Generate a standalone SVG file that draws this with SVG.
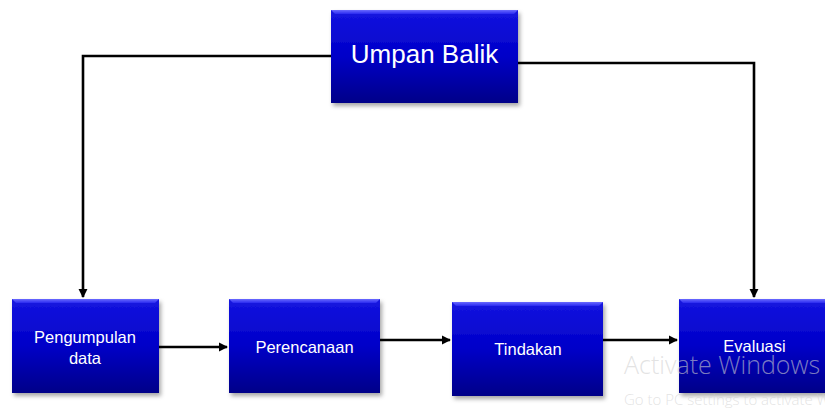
<svg xmlns="http://www.w3.org/2000/svg" width="825" height="410" viewBox="0 0 825 410">
<defs>
<linearGradient id="g" x1="0" y1="0" x2="0" y2="1">
<stop offset="0" stop-color="#1515e0"/>
<stop offset="0.5" stop-color="#0000c8"/>
<stop offset="1" stop-color="#000088"/>
</linearGradient>
<linearGradient id="bev" x1="0" y1="0" x2="0" y2="1">
<stop offset="0" stop-color="#6a6aff"/>
<stop offset="1" stop-color="#2a2af0"/>
</linearGradient>
<filter id="sh" x="-10%" y="-10%" width="130%" height="130%">
<feDropShadow dx="2" dy="3" stdDeviation="2" flood-color="#000" flood-opacity="0.35"/>
</filter>
<marker id="arr" viewBox="0 0 10 10" refX="9" refY="5" markerWidth="3.6" markerHeight="3.6" orient="auto" markerUnits="strokeWidth">
<path d="M0,0 L10,5 L0,10 z" fill="#000"/>
</marker>
<style>
.box{fill:url(#g);filter:url(#sh)}
.bev{fill:url(#bev)}
.t{font-family:"Liberation Sans",Arial,sans-serif;fill:#fff;text-anchor:middle}
.s{font-size:16.5px}
.c{fill:none;stroke:#000;stroke-width:2.6}
.wm{font-family:"Open Sans","Liberation Sans",sans-serif;font-weight:300;fill:#d0d0d0;fill-opacity:0.6}
</style>
</defs>
<rect width="825" height="410" fill="#fff"/>
<g id="connectors">
<path class="c" d="M331,56 H83 V297" marker-end="url(#arr)"/>
<path class="c" d="M518,63 H754 V297" marker-end="url(#arr)"/>
<path class="c" d="M159,347 H227" marker-end="url(#arr)"/>
<path class="c" d="M380,340 H450" marker-end="url(#arr)"/>
<path class="c" d="M603,340 H677" marker-end="url(#arr)"/>
</g>
<g id="umpan-balik">
<rect class="box" x="331" y="10" width="187" height="93"/>
<path class="bev" d="M331,10 H518 L514,14 H335 Z"/>
<text class="t" x="424.5" y="63" font-size="26">Umpan Balik</text>
</g>
<g id="pengumpulan-data">
<rect class="box" x="12" y="299" width="147" height="94"/>
<path class="bev" d="M12,299 H159 L155,303 H16 Z"/>
<text class="t s" x="85" y="343">Pengumpulan</text>
<text class="t s" x="85" y="364">data</text>
</g>
<g id="perencanaan">
<rect class="box" x="229" y="299" width="151" height="94"/>
<path class="bev" d="M229,299 H380 L376,303 H233 Z"/>
<text class="t s" x="304.5" y="353">Perencanaan</text>
</g>
<g id="tindakan">
<rect class="box" x="452" y="302" width="151" height="94"/>
<path class="bev" d="M452,302 H603 L599,306 H456 Z"/>
<text class="t s" x="528" y="355">Tindakan</text>
</g>
<g id="evaluasi">
<rect class="box" x="679" y="299" width="152" height="94"/>
<path class="bev" d="M679,299 H831 L827,303 H683 Z"/>
<text class="t s" x="754.5" y="352">Evaluasi</text>
</g>
<g id="watermark">
<text class="wm" x="624" y="374" font-size="25">Activate Windows</text>
<text class="wm" x="624" y="405" font-size="15">Go to PC settings to activate Windows.</text>
</g>
</svg>
